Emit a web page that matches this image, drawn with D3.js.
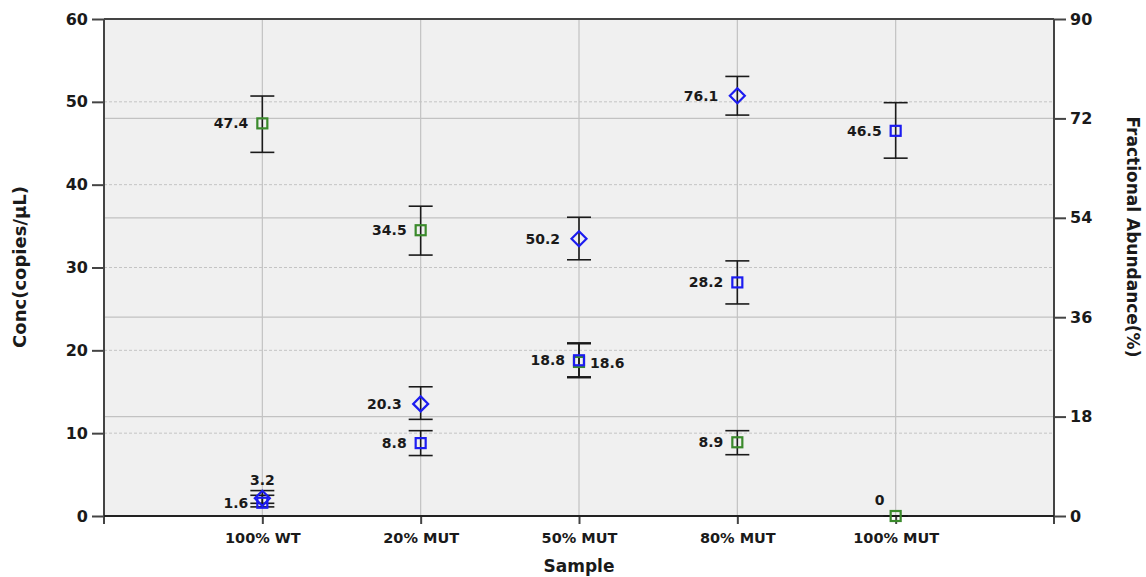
<!DOCTYPE html>
<html>
<head>
<meta charset="utf-8">
<script src="https://cdn.jsdelivr.net/npm/d3@7"></script>
<style>
  html, body { margin: 0; padding: 0; background: #fff; }
  svg { display: block; }
  text { font-family: "DejaVu Sans", Verdana, sans-serif; font-weight: bold; fill: #1a1a1a; }
</style>
</head>
<body>
<svg id="chart" width="1146" height="577"></svg>
<script>
// Samples along the x axis
const categories = ["100% WT", "20% MUT", "50% MUT", "80% MUT", "100% MUT"];

// Wild-type concentration (copies/µL) with error range
const wtConc = [47.4, 34.5, 18.6, 8.9, 0];
const wtHigh = [50.7, 37.4, 20.8, 10.3, 0];
const wtLow  = [43.9, 31.5, 16.7, 7.4, 0];

// Mutant concentration (copies/µL) with error range
const mutConc = [1.6, 8.8, 18.8, 28.2, 46.5];
const mutHigh = [2.5, 10.3, 20.9, 30.8, 49.9];
const mutLow  = [1.1, 7.3, 16.8, 25.6, 43.2];

// Fractional abundance (%) with error range
const fracAb   = [3.2, 20.3, 50.2, 76.1, null];
const fracHigh = [4.6, 23.4, 54.1, 79.6, null];
const fracLow  = [2.3, 17.5, 46.4, 72.6, null];

// Axis ticks
const leftTicks  = [0, 10, 20, 30, 40, 50, 60];
const rightTicks = [0, 18, 36, 54, 72, 90];

const W = 1146, H = 577;
const m = { left: 104, right: 92, top: 19, bottom: 61 };
const x0 = m.left, x1 = W - m.right, y0 = H - m.bottom, y1 = m.top;

const svg = d3.select("#chart");

const x = d3.scaleLinear().domain([0, categories.length + 1]).range([x0, x1]);
const yL = d3.scaleLinear().domain([0, 60]).range([y0, y1]);
const yR = d3.scaleLinear().domain([0, 90]).range([y0, y1]);

const GREEN = "#3b8a2c", BLUE = "#1c1cf0";

// plot background
svg.append("rect").attr("x", x0).attr("y", y1).attr("width", x1 - x0).attr("height", y0 - y1)
  .attr("fill", "#f0f0f0");

// grid: dashed for left-axis ticks, solid for right-axis ticks, solid verticals at samples
const grid = svg.append("g");
grid.selectAll("line.gl").data(leftTicks.filter(d => d > 0 && d < 60)).join("line")
  .attr("x1", x0).attr("x2", x1).attr("y1", d => yL(d)).attr("y2", d => yL(d))
  .attr("stroke", "#c4c4c4").attr("stroke-width", 1).attr("stroke-dasharray", "3,2");
grid.selectAll("line.gr").data(rightTicks.filter(d => d > 0 && d < 90)).join("line")
  .attr("x1", x0).attr("x2", x1).attr("y1", d => yR(d)).attr("y2", d => yR(d))
  .attr("stroke", "#c2c2c2").attr("stroke-width", 1.2);
grid.selectAll("line.gv").data(categories).join("line")
  .attr("x1", (d, i) => x(i + 1)).attr("x2", (d, i) => x(i + 1))
  .attr("y1", y1).attr("y2", y0)
  .attr("stroke", "#c2c2c2").attr("stroke-width", 1.2);

// axes
const axisColor = "#444";
const leftAxis = d3.axisLeft(yL).tickValues(leftTicks).tickSize(12).tickPadding(4);
const gL = svg.append("g").attr("transform", `translate(${x0},0)`).call(leftAxis);
const rightAxis = d3.axisRight(yR).tickValues(rightTicks).tickSize(12).tickPadding(4);
const gR = svg.append("g").attr("transform", `translate(${x1},0)`).call(rightAxis);
const bottomAxis = d3.axisBottom(x).tickValues(d3.range(1, categories.length + 1))
  .tickFormat(d => categories[d - 1]).tickSize(8).tickPadding(9);
const gB = svg.append("g").attr("transform", `translate(0,${y0})`).call(bottomAxis);

[gL, gR, gB].forEach(g => {
  g.select(".domain").remove();
  g.selectAll(".tick line").attr("stroke", axisColor).attr("stroke-width", 2);
  g.selectAll("text").attr("fill", "#1a1a1a").style("font-family", '"DejaVu Sans", Verdana, sans-serif')
    .style("font-weight", "bold");
});
gL.selectAll("text").style("font-size", "16px");
gR.selectAll("text").style("font-size", "16px");
gB.selectAll("text").style("font-size", "14.5px");

// frame lines
svg.append("line").attr("x1", x0).attr("x2", x0).attr("y1", y1).attr("y2", y0 + 8)
  .attr("stroke", axisColor).attr("stroke-width", 2);
svg.append("line").attr("x1", x1).attr("x2", x1).attr("y1", y1).attr("y2", y0 + 8)
  .attr("stroke", axisColor).attr("stroke-width", 2);
svg.append("line").attr("x1", x0).attr("x2", x1).attr("y1", y1).attr("y2", y1)
  .attr("stroke", axisColor).attr("stroke-width", 2);
svg.append("line").attr("x1", x0).attr("x2", x1).attr("y1", y0).attr("y2", y0)
  .attr("stroke", "#222").attr("stroke-width", 2);

// axis titles
svg.append("text").attr("transform", `translate(26,267) rotate(-90)`)
  .attr("text-anchor", "middle").style("font-size", "18px").text("Conc(copies/μL)");
svg.append("text").attr("transform", `translate(1127,237) rotate(90)`)
  .attr("text-anchor", "middle").style("font-size", "17px").text("Fractional Abundance(%)");
svg.append("text").attr("x", x(3)).attr("y", 572)
  .attr("text-anchor", "middle").style("font-size", "17px").text("Sample");

// build series records
function series(vals, hi, lo, scale, color, shape, key) {
  return vals.map((v, i) => ({ i, v, hi: hi[i], lo: lo[i], scale, color, shape, key }))
    .filter(d => d.v !== null);
}
const all = [
  ...series(wtConc, wtHigh, wtLow, yL, GREEN, "square", "wt"),
  ...series(mutConc, mutHigh, mutLow, yL, BLUE, "square", "mut"),
  ...series(fracAb, fracHigh, fracLow, yR, BLUE, "diamond", "fa")
];

// error bars
const eb = svg.append("g").attr("stroke", "#1a1a1a").attr("stroke-width", 1.6);
const capW = 12;
all.forEach(d => {
  const cx = x(d.i + 1);
  eb.append("line").attr("x1", cx).attr("x2", cx).attr("y1", d.scale(d.hi)).attr("y2", d.scale(d.lo));
  eb.append("line").attr("x1", cx - capW).attr("x2", cx + capW).attr("y1", d.scale(d.hi)).attr("y2", d.scale(d.hi));
  eb.append("line").attr("x1", cx - capW).attr("x2", cx + capW).attr("y1", d.scale(d.lo)).attr("y2", d.scale(d.lo));
});

// markers
const mk = svg.append("g").attr("fill", "none").attr("stroke-width", 2.2);
all.forEach(d => {
  const cx = x(d.i + 1), cy = d.scale(d.v);
  if (d.shape === "square") {
    mk.append("rect").attr("x", cx - 5).attr("y", cy - 5).attr("width", 10).attr("height", 10)
      .attr("stroke", d.color);
  } else {
    const r = 7.5;
    mk.append("path").attr("d", `M${cx},${cy - r}L${cx + r},${cy}L${cx},${cy + r}L${cx - r},${cy}Z`)
      .attr("stroke", d.color);
  }
});

// value labels
const lab = svg.append("g").style("font-size", "14px");
function place(d) {
  const cx = x(d.i + 1), cy = d.scale(d.v);
  const cat = categories[d.i];
  if (cat === "100% WT" && d.key === "fa") return { x: cx, y: cy - 18, anchor: "middle" };
  if (cat === "50% MUT" && d.key === "wt") return { x: cx + 11, y: cy + 1, anchor: "start" };
  if (cat === "100% MUT" && d.key === "wt") return { x: cx - 16, y: cy - 16, anchor: "middle" };
  const off = d.shape === "diamond" ? 19 : 14;
  return { x: cx - off, y: cy, anchor: "end" };
}
all.forEach(d => {
  const p = place(d);
  lab.append("text").attr("x", p.x).attr("y", p.y).attr("dy", "0.35em")
    .attr("text-anchor", p.anchor).text(d3.format("")(d.v));
});
</script>
</body>
</html>
